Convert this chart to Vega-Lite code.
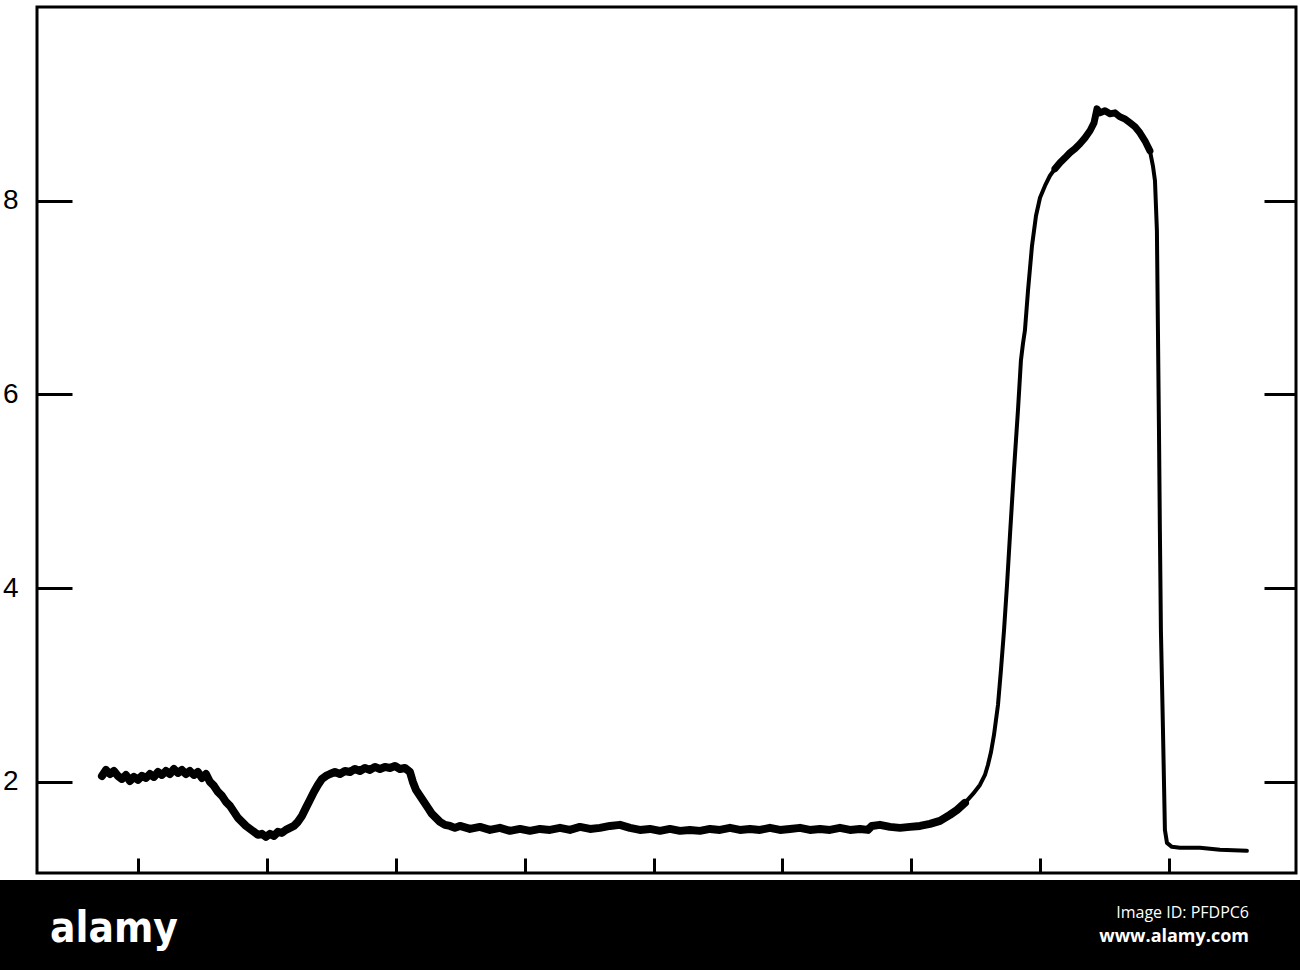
{
  "$schema": "https://vega.github.io/schema/vega-lite/v6.json",
  "background": "white",
  "padding": {"left": 0, "top": 5, "right": 0, "bottom": 0},
  "spacing": 4,
  "config": {"view": {"stroke": null}},
  "datasets": {
    "curve": [
      {"x":0.721,"y":2.062},{"x":0.752,"y":2.124},{"x":0.783,"y":2.082},{"x":0.814,"y":2.113},{"x":0.845,"y":2.062},{"x":0.876,"y":2.031},{"x":0.907,"y":2.072},{"x":0.938,"y":2.010},{"x":0.969,"y":2.052},{"x":1.000,"y":2.021},{"x":1.031,"y":2.062},{"x":1.062,"y":2.041},{"x":1.093,"y":2.082},{"x":1.124,"y":2.052},{"x":1.155,"y":2.103},{"x":1.186,"y":2.072},{"x":1.217,"y":2.113},{"x":1.248,"y":2.082},{"x":1.279,"y":2.134},{"x":1.310,"y":2.093},{"x":1.341,"y":2.124},{"x":1.372,"y":2.082},{"x":1.403,"y":2.113},{"x":1.434,"y":2.072},{"x":1.465,"y":2.103},{"x":1.497,"y":2.041},{"x":1.528,"y":2.082},{"x":1.559,"y":2.000},{"x":1.590,"y":1.959},{"x":1.621,"y":1.897},{"x":1.652,"y":1.856},{"x":1.683,"y":1.794},{"x":1.714,"y":1.753},{"x":1.745,"y":1.691},{"x":1.776,"y":1.629},{"x":1.807,"y":1.588},{"x":1.838,"y":1.546},{"x":1.869,"y":1.515},{"x":1.900,"y":1.485},{"x":1.931,"y":1.454},{"x":1.962,"y":1.464},{"x":1.993,"y":1.433},{"x":2.024,"y":1.464},{"x":2.055,"y":1.443},{"x":2.086,"y":1.485},{"x":2.117,"y":1.474},{"x":2.148,"y":1.505},{"x":2.179,"y":1.526},{"x":2.210,"y":1.546},{"x":2.241,"y":1.588},{"x":2.272,"y":1.649},{"x":2.303,"y":1.732},{"x":2.334,"y":1.814},{"x":2.365,"y":1.897},{"x":2.396,"y":1.969},{"x":2.427,"y":2.031},{"x":2.459,"y":2.062},{"x":2.490,"y":2.082},{"x":2.528,"y":2.103},{"x":2.567,"y":2.082},{"x":2.606,"y":2.113},{"x":2.645,"y":2.103},{"x":2.683,"y":2.134},{"x":2.722,"y":2.113},{"x":2.761,"y":2.144},{"x":2.800,"y":2.124},{"x":2.839,"y":2.155},{"x":2.877,"y":2.134},{"x":2.916,"y":2.155},{"x":2.955,"y":2.144},{"x":2.994,"y":2.165},{"x":3.033,"y":2.134},{"x":3.071,"y":2.144},{"x":3.110,"y":2.103},{"x":3.133,"y":2.000},{"x":3.157,"y":1.918},{"x":3.188,"y":1.856},{"x":3.219,"y":1.794},{"x":3.250,"y":1.732},{"x":3.281,"y":1.670},{"x":3.312,"y":1.629},{"x":3.343,"y":1.588},{"x":3.382,"y":1.557},{"x":3.421,"y":1.546},{"x":3.459,"y":1.526},{"x":3.498,"y":1.546},{"x":3.576,"y":1.515},{"x":3.653,"y":1.536},{"x":3.731,"y":1.505},{"x":3.808,"y":1.526},{"x":3.886,"y":1.495},{"x":3.964,"y":1.515},{"x":4.041,"y":1.495},{"x":4.119,"y":1.515},{"x":4.196,"y":1.505},{"x":4.274,"y":1.526},{"x":4.351,"y":1.505},{"x":4.429,"y":1.536},{"x":4.507,"y":1.515},{"x":4.584,"y":1.526},{"x":4.662,"y":1.546},{"x":4.739,"y":1.557},{"x":4.817,"y":1.526},{"x":4.894,"y":1.505},{"x":4.972,"y":1.515},{"x":5.050,"y":1.495},{"x":5.127,"y":1.515},{"x":5.205,"y":1.495},{"x":5.282,"y":1.505},{"x":5.360,"y":1.495},{"x":5.438,"y":1.515},{"x":5.515,"y":1.505},{"x":5.593,"y":1.526},{"x":5.670,"y":1.505},{"x":5.748,"y":1.515},{"x":5.825,"y":1.505},{"x":5.903,"y":1.526},{"x":5.981,"y":1.505},{"x":6.058,"y":1.515},{"x":6.136,"y":1.526},{"x":6.213,"y":1.505},{"x":6.291,"y":1.515},{"x":6.368,"y":1.505},{"x":6.446,"y":1.526},{"x":6.524,"y":1.505},{"x":6.601,"y":1.515},{"x":6.663,"y":1.505},{"x":6.694,"y":1.546},{"x":6.756,"y":1.557},{"x":6.834,"y":1.536},{"x":6.912,"y":1.526},{"x":6.989,"y":1.536},{"x":7.067,"y":1.546},{"x":7.144,"y":1.567},{"x":7.222,"y":1.598},{"x":7.299,"y":1.660},{"x":7.354,"y":1.711},{"x":7.416,"y":1.784},{"x":7.478,"y":1.876},{"x":7.532,"y":1.969},{"x":7.571,"y":2.072},{"x":7.594,"y":2.175},{"x":7.618,"y":2.309},{"x":7.641,"y":2.485},{"x":7.672,"y":2.794},{"x":7.695,"y":3.155},{"x":7.719,"y":3.567},{"x":7.742,"y":4.031},{"x":7.765,"y":4.546},{"x":7.796,"y":5.216},{"x":7.827,"y":5.835},{"x":7.850,"y":6.350},{"x":7.866,"y":6.526},{"x":7.881,"y":6.660},{"x":7.905,"y":7.072},{"x":7.936,"y":7.536},{"x":7.967,"y":7.845},{"x":7.998,"y":8.031},{"x":8.037,"y":8.155},{"x":8.075,"y":8.258},{"x":8.114,"y":8.330},{"x":8.153,"y":8.392},{"x":8.192,"y":8.443},{"x":8.230,"y":8.495},{"x":8.269,"y":8.536},{"x":8.308,"y":8.588},{"x":8.347,"y":8.649},{"x":8.386,"y":8.722},{"x":8.417,"y":8.804},{"x":8.440,"y":8.948},{"x":8.463,"y":8.907},{"x":8.502,"y":8.928},{"x":8.541,"y":8.897},{"x":8.580,"y":8.907},{"x":8.618,"y":8.866},{"x":8.657,"y":8.845},{"x":8.696,"y":8.804},{"x":8.735,"y":8.763},{"x":8.773,"y":8.701},{"x":8.812,"y":8.619},{"x":8.851,"y":8.515},{"x":8.874,"y":8.361},{"x":8.890,"y":8.206},{"x":8.905,"y":7.691},{"x":8.913,"y":6.660},{"x":8.921,"y":5.629},{"x":8.928,"y":4.598},{"x":8.936,"y":3.567},{"x":8.952,"y":2.536},{"x":8.967,"y":1.505},{"x":8.983,"y":1.371},{"x":9.021,"y":1.330},{"x":9.084,"y":1.320},{"x":9.239,"y":1.320},{"x":9.394,"y":1.299},{"x":9.603,"y":1.289}
    ],
    "band": [{"x0": 0, "x1": 1300, "y0": 0, "y1": 90}],
    "marks": [
      {"label": "alamy", "kind": "logo", "px": 50, "py": 62},
      {"label": "Image ID: PFDPC6", "kind": "id", "px": 1249, "py": 38},
      {"label": "www.alamy.com", "kind": "url", "px": 1249, "py": 62}
    ]
  },
  "vconcat": [
    {
      "width": 1259,
      "height": 866,
      "view": {"stroke": "black", "strokeWidth": 3},
      "data": {"name": "curve"},
      "encoding": {
        "x": {"field": "x", "type": "quantitative",
          "scale": {"domain": [0.217, 9.984], "nice": false, "zero": false},
          "axis": {"orient": "bottom", "values": [1,2,3,4,5,6,7,8,9], "labels": false, "domain": false, "grid": false, "offset": -15, "tickSize": 15, "tickWidth": 3, "tickColor": "black", "title": null}},
        "y": {"field": "y", "type": "quantitative",
          "scale": {"domain": [1.06, 10], "nice": false, "zero": false}}
      },
      "layer": [
        {
          "mark": {"type": "line", "color": "black", "strokeWidth": 4, "strokeJoin": "round", "strokeCap": "round"},
          "encoding": {
            "y": {"field": "y", "type": "quantitative",
              "axis": {"orient": "left", "values": [2,4,6,8], "domain": false, "grid": false, "offset": -35, "tickSize": 35, "tickWidth": 3, "tickColor": "black", "labelPadding": 19, "labelFont": "Liberation Sans", "labelFontSize": 28, "labelColor": "black", "labelFontWeight": "normal", "labelBaseline": "middle", "title": null}}
          }
        },
        {
          "transform": [{"filter": "datum.x < 7.45"}],
          "mark": {"type": "line", "color": "black", "strokeWidth": 8, "strokeJoin": "round", "strokeCap": "round"},
          "encoding": {"y": {"field": "y", "type": "quantitative", "axis": null}}
        },
        {
          "transform": [{"filter": "datum.x > 8.1 && datum.x < 8.86"}],
          "mark": {"type": "line", "color": "black", "strokeWidth": 7, "strokeJoin": "round", "strokeCap": "round"},
          "encoding": {"y": {"field": "y", "type": "quantitative", "axis": null}}
        },
        {
          "mark": {"type": "line", "opacity": 0},
          "encoding": {
            "y": {"field": "y", "type": "quantitative",
              "axis": {"orient": "right", "values": [2,4,6,8], "labels": false, "domain": false, "grid": false, "offset": -32, "tickSize": 32, "tickWidth": 3, "tickColor": "black", "title": null}}
          }
        }
      ],
      "resolve": {"axis": {"y": "independent"}}
    },
    {
      "width": 1263,
      "height": 90,
      "layer": [
        {
          "data": {"name": "band"},
          "mark": {"type": "rect", "color": "black", "clip": false},
          "encoding": {
            "x": {"field": "x0", "type": "quantitative", "scale": {"domain": [37, 1300], "nice": false, "zero": false}, "axis": null},
            "x2": {"field": "x1"},
            "y": {"field": "y0", "type": "quantitative", "scale": {"domain": [0, 90], "nice": false, "zero": false, "reverse": true}, "axis": null},
            "y2": {"field": "y1"}
          }
        },
        {
          "data": {"name": "marks"},
          "transform": [{"filter": "datum.kind === 'logo'"}],
          "mark": {"type": "text", "color": "white", "font": "'DejaVu Sans Condensed', 'Liberation Sans', sans-serif", "fontWeight": "bold", "fontSize": 42, "align": "left", "baseline": "alphabetic"},
          "encoding": {
            "x": {"field": "px", "type": "quantitative"},
            "y": {"field": "py", "type": "quantitative"},
            "text": {"field": "label"}
          }
        },
        {
          "data": {"name": "marks"},
          "transform": [{"filter": "datum.kind === 'id'"}],
          "mark": {"type": "text", "color": "white", "font": "Open Sans", "fontSize": 16, "align": "right", "baseline": "alphabetic"},
          "encoding": {
            "x": {"field": "px", "type": "quantitative"},
            "y": {"field": "py", "type": "quantitative"},
            "text": {"field": "label"}
          }
        },
        {
          "data": {"name": "marks"},
          "transform": [{"filter": "datum.kind === 'url'"}],
          "mark": {"type": "text", "color": "white", "font": "Open Sans", "fontWeight": "bold", "fontSize": 18, "align": "right", "baseline": "alphabetic"},
          "encoding": {
            "x": {"field": "px", "type": "quantitative"},
            "y": {"field": "py", "type": "quantitative"},
            "text": {"field": "label"}
          }
        }
      ]
    }
  ]
}
